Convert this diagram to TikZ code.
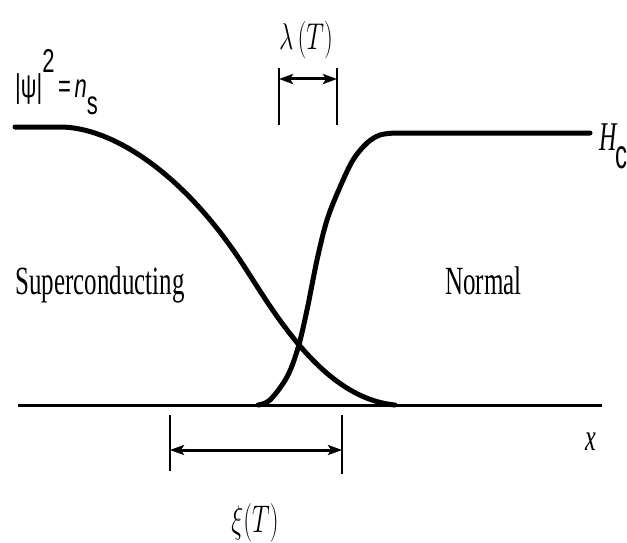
\documentclass[tikz,border=0pt]{standalone}
\usepackage{fontspec}
\usepackage{graphicx}
\usetikzlibrary{arrows.meta}
\newfontfamily\tnr{Liberation Serif}
\newfontfamily\ari{Liberation Sans}
\newcommand{\vstretch}[2]{\scalebox{1}[#1]{#2}}
\begin{document}
\begin{tikzpicture}[x=1pt,y=-1pt,
  curve/.style={line width=5pt, line cap=round, line join=round},
  axisline/.style={line width=3pt},
  tick/.style={line width=1.3pt},
  dimarrow/.style={line width=3pt, {Stealth[length=14pt,width=10pt,inset=3pt]}-{Stealth[length=14pt,width=10pt,inset=3pt]}},
  lbl/.style={inner sep=0pt}]
\useasboundingbox (0,0) rectangle (627,543);
% axis
\coordinate (a0) at (18,405);
\coordinate (a1) at (602,405);
\draw[axisline] (a0) -- (a1);
% order parameter curve
\draw[curve] (15,127) -- (60,127) .. controls (110,127) and (180,170) .. (240,260)
  .. controls (270,305) and (320,398) .. (395,405);
% field curve
\draw[curve] plot[smooth,tension=0.55] coordinates {(258,405)(270,400)(287,377)(298,348)(307,310)(317,260)(327,220)(340,187)(353,160)(367,143)(380,135)(395,133)} -- (590,133);
% lambda bracket
\coordinate (l1t) at (279,68); \coordinate (l1b) at (279,125);
\coordinate (l2t) at (337,68); \coordinate (l2b) at (337,125);
\coordinate (la) at (279,79); \coordinate (lb) at (337,79);
\draw[tick] (l1t) -- (l1b);
\draw[tick] (l2t) -- (l2b);
\draw[dimarrow] (la) -- (lb);
% xi bracket
\coordinate (x1t) at (170,415); \coordinate (x1b) at (170,471);
\coordinate (x2t) at (342,415); \coordinate (x2b) at (342,474);
\coordinate (xa) at (170,450); \coordinate (xb) at (342,450);
\draw[tick] (x1t) -- (x1b);
\draw[tick] (x2t) -- (x2b);
\draw[dimarrow] (xa) -- (xb);
% labels
\node[lbl,anchor=base west] (sc) at (15,294) {\tnr\fontsize{25}{28}\selectfont\vstretch{1.6}{Superconducting}};
\node[lbl,anchor=base west] (nm) at (445,294) {\tnr\fontsize{25}{28}\selectfont\vstretch{1.6}{Normal}};
\node[lbl,anchor=base] (lam) at (306,50) {\fontsize{25}{28}\selectfont\vstretch{1.5}{$\lambda\,(T)$}};
\node[lbl,anchor=base] (xi) at (255,532) {\fontsize{35}{40}\selectfont\vstretch{1.55}{$\xi(T)$}};
\node[lbl,anchor=base west] (psi) at (15,98) {\ari\fontsize{22}{26}\selectfont\vstretch{1.5}{|ψ|\raisebox{17pt}{2}\,=\,\textit{n}\raisebox{-11pt}{s}}};
\node[lbl,anchor=base west] (hc) at (599,150) {\fontsize{24}{28}\selectfont\vstretch{1.7}{{\tnr\itshape H}\kern-1pt{\ari\raisebox{-11pt}{c}}}};
\node[lbl,anchor=base west] (xl) at (585,450) {\tnr\itshape\fontsize{24}{28}\selectfont\vstretch{1.6}{x}};
\end{tikzpicture}
\end{document}
